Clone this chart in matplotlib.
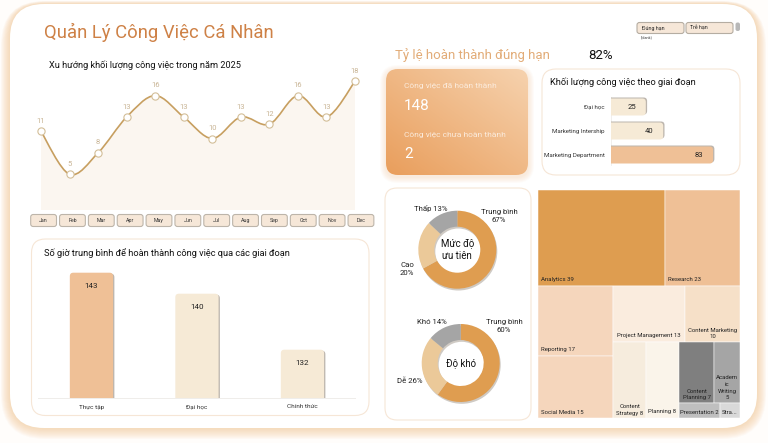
import numpy as np
import matplotlib
matplotlib.use("Agg")
import matplotlib.pyplot as plt
from matplotlib.patches import FancyBboxPatch, Rectangle, PathPatch
from matplotlib.path import Path

plt.rcParams['font.family'] = ['Roboto', 'Noto Sans', 'DejaVu Sans']

W, H = 768, 443

months = ["Jan", "Feb", "Mar", "Apr", "May", "Jun", "Jul", "Aug", "Sep", "Oct", "Nov", "Dec"]
workload = [11, 5, 8, 13, 16, 13, 10, 13, 12, 16, 13, 18]

stage_names = ["Thực tập", "Đại học", "Chính thức"]
stage_hours = [143, 140, 132]

phase_names = ["Đại học", "Marketing Intership", "Marketing Department"]
phase_values = [25, 40, 83]

priority_labels = ["Trung bình\n67%", "Cao\n20%", "Thấp 13%"]
priority_values = [67, 20, 13]
difficulty_labels = ["Trung bình\n60%", "Dễ 26%", "Khó 14%"]
difficulty_values = [60, 26, 14]

tree_labels = ["Analytics 39", "Research 23", "Reporting 17", "Social Media 15",
               "Project Management 13", "Content Marketing\n10", "Content\nStrategy 8",
               "Planning 8", "Content\nPlanning 7", "Academ\nic\nWriting\n5",
               "Presentation 2", "Stra..."]
tree_values = [39, 23, 17, 15, 13, 10, 8, 8, 7, 5, 2, 1]
tree_colors = ["#DE9D50", "#EFC096", "#F5D6BC", "#F5D6BC", "#FAECDE", "#F6E0C8",
               "#F6ECDD", "#FAF4EA", "#7F7F7F", "#A5A5A5", "#BFBFBF", "#D9D9D9"]

completed = 148
pending = 2
on_time = "82%"

fig = plt.figure(figsize=(W / 100, H / 100), dpi=100, facecolor="#FFFDFB")
base = fig.add_axes([0, 0, 1, 1], zorder=0)
base.set_xlim(0, W)
base.set_ylim(H, 0)
base.axis("off")


def sub_axes(x0, y0, x1, y1, z=5):
    ax = fig.add_axes([x0 / W, 1 - y1 / H, (x1 - x0) / W, (y1 - y0) / H], zorder=z)
    ax.patch.set_alpha(0)
    return ax


def panel(x0, y0, x1, y1, r, fc="white", ec="#F6E6D6", lw=0.8, z=2, **kw):
    p = FancyBboxPatch((x0 + r, y0 + r), x1 - x0 - 2 * r, y1 - y0 - 2 * r,
                       boxstyle=f"round,pad={r},rounding_size={r}", fc=fc, ec=ec, lw=lw, zorder=z, **kw)
    base.add_patch(p)
    return p


# page tint and the main sheet with a soft peach shadow
for i in range(10, 0, -1):
    panel(10 - i * 0.9, 4 - i * 0.3, 757 + i * 0.9, 428 + i * 1.1, 34 + i, fc="#F4C48E", ec="none", lw=0, z=1, alpha=0.07)
panel(10, 4, 757, 428, 34, fc="white", ec="none", lw=0, z=1.5)

# panels
panel(31.5, 239, 369, 415.5, 14)
panel(542, 69, 740, 175, 14)
panel(385, 188, 531, 420, 12)

# KPI card with gradient
for i in range(6, 0, -1):
    panel(386 - i, 69 - i + 2, 528 + i, 175 + i + 2, 12 + i, fc="#F2C08C", ec="none", lw=0, z=1.8, alpha=0.05)
card = panel(386, 69, 528, 175, 12, fc="none", ec="none", lw=0)
gx, gy = np.meshgrid(np.linspace(0, 1, 80), np.linspace(0, 1, 60))
gt = (gx + (1 - gy)) / 2
c0 = np.array([0xE9, 0x9E, 0x5C]) / 255
c1 = np.array([0xF6, 0xD2, 0xAE]) / 255
img = c0[None, None, :] + (c1 - c0)[None, None, :] * gt[..., None]
im = base.imshow(img, extent=(386, 528, 175, 69), origin="upper", aspect="auto", zorder=2.2, interpolation="bilinear")
im.set_clip_path(card)
base.set_xlim(0, W)
base.set_ylim(H, 0)

# headings
base.text(44, 32, "Quản Lý Công Việc Cá Nhân", color="#CE8146", fontsize=13.3, va="center", zorder=6)
base.text(49, 65, "Xu hướng khối lượng công việc trong năm 2025", color="#111111", fontsize=6.6, va="center", zorder=6)
base.text(395, 55, "Tỷ lệ hoàn thành đúng hạn", color="#E2AC78", fontsize=9.5, va="center", zorder=6)
base.text(588, 55, on_time, color="#111111", fontsize=9.5, va="center", zorder=6)
base.text(44, 253, "Số giờ trung bình để hoàn thành công việc qua các giai đoạn", color="#111111", fontsize=6.7, va="center", zorder=6)
base.text(550, 82, "Khối lượng công việc theo giai đoạn", color="#111111", fontsize=6.7, va="center", zorder=6)

# KPI text
base.text(404, 86, "Công việc đã hoàn thành", color="#FBEBDC", fontsize=6, va="center", zorder=6)
base.text(404, 106, str(completed), color="white", fontsize=11, va="center", zorder=6)
base.text(404, 135, "Công việc chưa hoàn thành", color="#FBEBDC", fontsize=6, va="center", zorder=6)
base.text(404, 154, str(pending), color="white", fontsize=11, va="center", zorder=6)

# month slicer
for i, m in enumerate(months):
    x = 30.7 + i * 28.85
    panel(x, 214.5, x + 25.8, 226.5, 2.5, fc="#F6E7D8", ec="#BDB5AA", lw=0.8, z=3)
    base.text(x + 12.9, 220.5, m, fontsize=3.8, color="#333333", ha="center", va="center", zorder=6)

# top-right slicer
panel(637, 22.5, 684, 33.5, 2.5, fc="#F6E7D8", ec="#B5ADA2", lw=0.8, z=3)
panel(686, 22.5, 733, 33.5, 2.5, fc="#F6E7D8", ec="#B5ADA2", lw=0.8, z=3)
panel(735.5, 22.5, 740, 31, 2, fc="#B8B8B8", ec="none", lw=0, z=3)
base.text(642, 28, "Đúng hạn", fontsize=3.8, color="#222222", va="center", zorder=6)
base.text(690.5, 28, "Trễ hạn", fontsize=3.8, color="#222222", va="center", zorder=6)
base.text(641, 37, "(blank)", fontsize=2.8, color="#444444", va="center", zorder=6)

# line chart
ax = sub_axes(41, 60, 355, 210)
ax.set_xlim(0, 11)
ax.set_ylim(0, 150 / 7.15)
ax.axis("off")
xs = np.arange(len(workload), dtype=float)
ys = np.array(workload, dtype=float)
verts = [(xs[0], ys[0])]
codes = [Path.MOVETO]
for i in range(len(xs) - 1):
    a = max(i - 1, 0)
    b = min(i + 2, len(xs) - 1)
    verts += [(xs[i] + (xs[i + 1] - xs[a]) / 6, ys[i] + (ys[i + 1] - ys[a]) / 6),
              (xs[i + 1] - (xs[b] - xs[i]) / 6, ys[i + 1] - (ys[b] - ys[i]) / 6),
              (xs[i + 1], ys[i + 1])]
    codes += [Path.CURVE4] * 3
area_v = verts + [(xs[-1], 0), (xs[0], 0), (xs[0], ys[0])]
area_c = codes + [Path.LINETO, Path.LINETO, Path.CLOSEPOLY]
ax.add_patch(PathPatch(Path(area_v, area_c), fc="#FBF6F0", ec="none", zorder=1))
ax.add_patch(PathPatch(Path(verts, codes), fc="none", ec="#C79F60", lw=1.2, zorder=2, clip_on=False))
ax.plot(xs, ys, ls="none", marker="o", ms=5.2, mfc="white", mec="#D3BE98", mew=0.8, zorder=3, clip_on=False)
for x, y in zip(xs, ys):
    ax.annotate(str(int(y)), (x, y), xytext=(0, 7.5), textcoords="offset points", ha="center", va="center",
                fontsize=5.5, color="#C9B596", annotation_clip=False)


def round_bars(ax, bars, rpx, xpx, ypx, horizontal=False):
    """Replace the corners of library-made bars with rounded ones (keeping their geometry)."""
    for b in bars:
        x, y, w, h = b.get_x(), b.get_y(), b.get_width(), b.get_height()
        r = rpx / xpx
        asp = (1 / ypx) / (1 / xpx)
        if horizontal:
            x2, w2 = x - 2 * r, w + 2 * r
            y2, h2 = y, h
        else:
            x2, w2 = x, w
            y2, h2 = y - 2 * r * asp, h + 2 * r * asp
        kw = dict(boxstyle=f"round,pad=0,rounding_size={r}", mutation_aspect=asp, ec="none", lw=0)
        sh = FancyBboxPatch((x2 + 1.3 / xpx, y2 - 1.0 / ypx), w2, h2, fc="#BDB6AE", zorder=1.5, **kw)
        ax.add_patch(sh)
        fp = FancyBboxPatch((x2, y2), w2, h2, fc=b.get_facecolor(), zorder=2, **kw)
        ax.add_patch(fp)
        b.set_visible(False)


# column chart
ax = sub_axes(38.7, 262, 355.2, 398)
ax.set_xlim(-0.5, 2.5)
ax.set_ylim(125.1, 125.1 + 136 / 7.0)
ax.axis("off")
bars = ax.bar(range(3), stage_hours, width=0.41, bottom=0, color=["#EFC096", "#F6EAD6", "#F6EAD6"])
for b in bars:
    b.set_y(ax.get_ylim()[0])
    b.set_height(b.get_height() - ax.get_ylim()[0])
round_bars(ax, bars, 3.5, 105.5, 7.0)
for i, v in enumerate(stage_hours):
    ax.annotate(str(v), (i, v), xytext=(0, -9.5), textcoords="offset points", ha="center", va="center",
                fontsize=5.8, color="#222222")
base.plot([38, 355], [398, 398], color="#EFEDEA", lw=0.7, zorder=6)
for i, n in enumerate(stage_names):
    base.text(91.5 + i * 105.4, 407, n, fontsize=4.6, color="#333333", ha="center", va="center", zorder=6)

# horizontal bars
ax = sub_axes(611, 95, 725, 167)
xmin = -5
ax.set_xlim(xmin, xmin + 114 / 1.16)
ax.set_ylim(2.5, -0.5)
ax.axis("off")
bars = ax.barh(range(3), [v - xmin for v in phase_values], left=xmin, height=17 / 24,
               color=["#F6EAD6", "#F6EAD6", "#EFC096"])
round_bars(ax, bars, 3.5, 1.16, 24, horizontal=True)
for i, v in enumerate(phase_values):
    ax.annotate(str(v), (v, i), xytext=(-10, 0), textcoords="offset points", ha="center", va="center",
                fontsize=5.5, color="#222222")
    base.text(605, 107 + i * 24, phase_names[i], fontsize=4.4, color="#333333", ha="right", va="center", zorder=6)
base.plot([611, 611], [97, 165], color="#EFEDEA", lw=0.6, zorder=4)


# donuts
def donut(cx, cy, values, labels, label_pos, center):
    R = 39
    sh = sub_axes(cx - R - 1, cy - R - 0.2, cx + R + 3, cy + R + 3.8)
    sh.axis("off")
    sh.pie([1], colors=["#CFCAC4"], radius=R, wedgeprops=dict(width=R - 23, ec="none"), frame=False)
    sh.set_xlim(-R - 2, R + 2)
    sh.set_ylim(-R - 2, R + 2)
    ax = sub_axes(cx - R - 2, cy - R - 2, cx + R + 2, cy + R + 2)
    ax.pie(values, colors=["#DF9D50", "#EBC999", "#A5A5A5"], startangle=90, counterclock=False,
           radius=R, wedgeprops=dict(width=R - 23, ec="none"), frame=False)
    ax.set_xlim(-R - 2, R + 2)
    ax.set_ylim(-R - 2, R + 2)
    for lab, (lx, ly) in zip(labels, label_pos):
        base.text(lx, ly, lab, fontsize=5.6, color="#222222", ha="center", va="center", linespacing=1.4, zorder=6)
    ax.text(0, 0, center, fontsize=7, color="#111111", ha="center", va="center", linespacing=1.35)


donut(457.3, 249.7, priority_values, priority_labels, [(499, 216), (407, 269), (431, 208)], "Mức độ\nưu tiên")
donut(460.7, 363, difficulty_values, difficulty_labels, [(504, 326), (410, 380.5), (432, 322)], "Độ khó")

# treemap: nested slicing of the values
ax = sub_axes(538.3, 190, 740, 418.3)
ax.set_xlim(538.3, 740)
ax.set_ylim(418.3, 190)
ax.axis("off")


def rects(v):
    x0, x1, y0, y1 = 538.3, 740, 190, 418.3
    out = []
    tot = sum(v)
    h = (v[0] + v[1]) / tot * (y1 - y0)
    xm = x0 + v[0] / (v[0] + v[1]) * (x1 - x0)
    out += [(x0, y0, xm, y0 + h), (xm, y0, x1, y0 + h)]
    y0 += h
    rest = sum(v[2:])
    w = (v[2] + v[3]) / rest * (x1 - x0)
    ym = y0 + v[2] / (v[2] + v[3]) * (y1 - y0)
    out += [(x0, y0, x0 + w, ym), (x0, ym, x0 + w, y1)]
    x0 += w
    rest = sum(v[4:])
    h = (v[4] + v[5]) / rest * (y1 - y0)
    xm = x0 + v[4] / (v[4] + v[5]) * (x1 - x0)
    out += [(x0, y0, xm, y0 + h), (xm, y0, x1, y0 + h)]
    y0 += h
    rest = sum(v[6:])
    a = x0 + v[6] / rest * (x1 - x0)
    b = a + v[7] / rest * (x1 - x0)
    out += [(x0, y0, a, y1), (a, y0, b, y1)]
    x0 = b
    rest = sum(v[8:])
    ym = y0 + (v[8] + v[9]) / rest * (y1 - y0)
    xm = x0 + v[8] / (v[8] + v[9]) * (x1 - x0)
    out += [(x0, y0, xm, ym), (xm, y0, x1, ym)]
    xm = x0 + v[10] / (v[10] + v[11]) * (x1 - x0)
    out += [(x0, ym, xm, y1), (xm, ym, x1, y1)]
    return out


boxes = rects(tree_values)
for (x0, y0, x1, y1), c, lab in zip(boxes, tree_colors, tree_labels):
    ax.add_patch(Rectangle((x0, y0), x1 - x0, y1 - y0, fc=c, ec="white", lw=0.35))
    if "\n" in lab:
        ax.text((x0 + x1) / 2, y1 - 2.8, lab, fontsize=4.3, color="#222222", ha="center", va="bottom", linespacing=1.4)
    elif lab in ("Project Management 13", "Presentation 2", "Planning 8", "Stra..."):
        ax.text((x0 + x1) / 2, y1 - 6.3, lab, fontsize=4.3, color="#222222", ha="center", va="center")
    else:
        ax.text(x0 + 2.4, y1 - 6.2, lab, fontsize=4.3, color="#222222", ha="left", va="center")

fig.savefig("out.png", dpi=100, facecolor=fig.get_facecolor())
